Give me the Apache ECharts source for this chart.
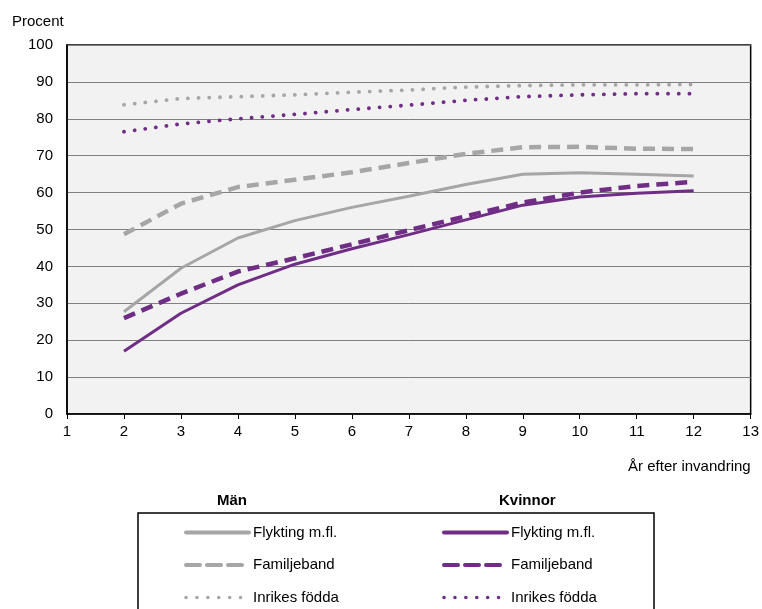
<!DOCTYPE html>
<html><head><meta charset="utf-8">
<script src="https://cdn.jsdelivr.net/npm/echarts@6/dist/echarts.min.js"></script>
<style>html,body{margin:0;padding:0;background:#fff}#c{width:762px;height:609px}</style>
</head><body><div id="c"></div>
<script>
const years = [2,3,4,5,6,7,8,9,10,11,12];
const manFlykting   = [27.7,39.5,47.7,52.4,56,59,62.2,65,65.4,65,64.5];
const manFamilj     = [48.7,57,61.5,63.5,65.5,68,70.5,72.3,72.4,71.9,71.8];
const manInrikes    = [83.8,85.5,86,86.5,87.2,87.8,88.6,89,89.2,89.2,89.3];
const kvFlykting    = [17,27.3,35,40.6,44.8,48.6,52.6,56.6,58.8,59.8,60.5];
const kvFamilj      = [26,32.6,38.6,42.2,46,49.8,53.6,57.3,60,61.8,62.9];
const kvInrikes     = [76.5,78.6,80,81.2,82.5,83.7,85,86,86.5,86.8,86.8];
const yTicks = [0,10,20,30,40,50,60,70,80,90,100];
const labels = ['Flykting m.fl.','Familjeband','Inrikes födda'];

const gray = '#a6a6a6', purple = '#702d86';
const font = 'Liberation Sans, Arial, sans-serif';
const styles = {
  solid:{width:3, type:'solid'},
  dashed:{width:4.5, type:[12,7]},
  dotted:{width:3.8, type:[0.1,10.6], cap:'round'}
};
const legStyles = {
  solid:{width:4, type:'solid', cap:'round'},
  dashed:{width:4, type:[14,7], cap:'round'},
  dotted:{width:3.5, type:[0.1,10.8], cap:'round'}
};
const kinds = ['solid','dashed','dotted'];
function mk(name, data, color, st){
  return {name, type:'line', data: years.map((y,i)=>[y,data[i]]), symbol:'none', smooth:false,
    lineStyle:Object.assign({color}, styles[st]), itemStyle:{color}, z: 3};
}
const series = [
  mk('Män|'+labels[0], manFlykting, gray, 'solid'),
  mk('Män|'+labels[1], manFamilj, gray, 'dashed'),
  mk('Män|'+labels[2], manInrikes, gray, 'dotted'),
  mk('Kv|'+labels[0], kvFlykting, purple, 'solid'),
  mk('Kv|'+labels[1], kvFamilj, purple, 'dashed'),
  mk('Kv|'+labels[2], kvInrikes, purple, 'dotted'),
];
function legData(arr, color){
  return arr.map((s,i)=>({name:s.name, lineStyle:Object.assign({color}, legStyles[kinds[i]]), itemStyle:{opacity:0, borderWidth:0}}));
}
const legBase = {orient:'vertical', itemWidth:63, itemHeight:14, itemGap:17.5, height:140, width:220,
  itemStyle:{opacity:0, borderWidth:0},
  textStyle:{fontFamily:font, fontSize:15, color:'#000', padding:[0,0,0,-1]}, formatter:n=>n.split('|')[1], selectedMode:false};
const chart = echarts.init(document.getElementById('c'), null, {renderer:'canvas'});
chart.setOption({
  animation:false,
  backgroundColor:'#fff',
  grid:{left:67, right:10, top:45, bottom:195, show:true, backgroundColor:'#f2f2f2', borderColor:'#000', borderWidth:1.5},
  xAxis:{type:'value', min:1, max:13, interval:1,
    axisLine:{show:true, lineStyle:{color:'#000', width:1.5}},
    axisTick:{show:true, length:5, lineStyle:{color:'#000'}},
    axisLabel:{fontFamily:font, fontSize:15, color:'#000', margin:10},
    splitLine:{show:false},
    name:'År efter invandring', nameLocation:'end', nameGap:0,
    nameTextStyle:{fontFamily:font, fontSize:15, color:'#000', align:'right', verticalAlign:'top', padding:[45,0,0,0]}},
  yAxis:{type:'value', min:0, max:100, interval:10,
    axisLine:{show:true, lineStyle:{color:'#000', width:1.5}},
    axisTick:{show:false},
    axisLabel:{fontFamily:font, fontSize:15, color:'#000', margin:14},
    splitLine:{show:true, lineStyle:{color:'#7f7f7f', width:1}},
    name:'Procent', nameLocation:'end', nameGap:16,
    nameTextStyle:{fontFamily:font, fontSize:15, color:'#000', align:'left', padding:[0,0,0,-55]}},
  legend:[
    Object.assign({}, legBase, {left:179, top:520, data:legData(series.slice(0,3), gray)}),
    Object.assign({}, legBase, {left:437, top:520, data:legData(series.slice(3), purple)})
  ],
  graphic:[
    {type:'rect', shape:{x:138, y:513, width:516, height:130}, style:{fill:null, stroke:'#000', lineWidth:1.5}},
    {type:'text', left:217, top:493, style:{text:'Män', font:'bold 15px '+font, fill:'#000'}},
    {type:'text', left:499, top:493, style:{text:'Kvinnor', font:'bold 15px '+font, fill:'#000'}}
  ],
  series
});
</script></body></html>
